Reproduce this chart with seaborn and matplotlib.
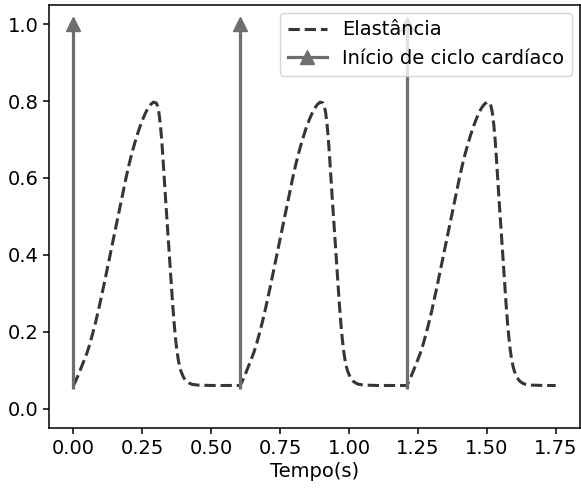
import matplotlib
matplotlib.use("Agg")
import matplotlib.pyplot as plt
import numpy as np
import pandas as pd
import seaborn as sns
from matplotlib.lines import Line2D

# one cardiac cycle of the elastance curve
cycle_time = [
    0.000, 0.010, 0.020, 0.030, 0.040, 0.050, 0.060, 0.070, 0.080, 0.090,
    0.100, 0.110, 0.120, 0.130, 0.140, 0.150, 0.160, 0.170, 0.180, 0.190,
    0.200, 0.210, 0.220, 0.230, 0.240, 0.250, 0.260, 0.270, 0.280, 0.290,
    0.300, 0.305, 0.310, 0.315, 0.320, 0.325, 0.330, 0.335, 0.340, 0.345,
    0.350, 0.355, 0.360, 0.365, 0.370, 0.375, 0.380, 0.385, 0.390, 0.400,
    0.410, 0.420, 0.430, 0.450, 0.500, 0.540, 0.600,
]
cycle_elastance = [
    0.060, 0.075, 0.092, 0.110, 0.128, 0.147, 0.170, 0.196, 0.224, 0.254,
    0.287, 0.320, 0.355, 0.390, 0.424, 0.459, 0.494, 0.528, 0.563, 0.598,
    0.630, 0.659, 0.685, 0.709, 0.731, 0.750, 0.767, 0.781, 0.791, 0.797,
    0.795, 0.787, 0.770, 0.740, 0.700, 0.648, 0.591, 0.536, 0.482, 0.428,
    0.374, 0.320, 0.270, 0.224, 0.184, 0.152, 0.128, 0.110, 0.097, 0.080,
    0.071, 0.066, 0.063, 0.061, 0.060, 0.060, 0.060,
]
# start of each cardiac cycle (arrows)
cycle_starts = [0.0, 0.605, 1.21]
t_end = 1.75
arrow_bottom = 0.05
arrow_top = 1.0

rows = []
for start in cycle_starts:
    for t, e in zip(cycle_time, cycle_elastance):
        if start + t <= t_end + 1e-9:
            rows.append((start + t, e))
df = pd.DataFrame(rows, columns=["tempo", "elastancia"]).drop_duplicates("tempo")

plt.rcParams["font.family"] = ["DejaVu Sans"]
plt.rcParams["font.size"] = 14

fig, ax = plt.subplots(figsize=(5.81, 4.90), dpi=100)
fig.subplots_adjust(left=0.085, right=0.998, bottom=0.127, top=0.99)

curve_color = "#363636"
arrow_color = "#6e6e6e"

sns.lineplot(data=df, x="tempo", y="elastancia", ax=ax, color=curve_color,
             linestyle="--", linewidth=2.2, sort=True)

for start in cycle_starts:
    ax.plot([start, start], [arrow_bottom, arrow_top], color=arrow_color,
            linewidth=2.3, solid_capstyle="butt")
    ax.plot([start], [arrow_top], marker="^", markersize=10.5,
            color=arrow_color, linestyle="none")

ax.set_xlim(-0.0875, 1.8375)
ax.set_ylim(-0.05, 1.05)
ax.set_xticks([0.0, 0.25, 0.5, 0.75, 1.0, 1.25, 1.5, 1.75])
ax.set_xticklabels(["0.00", "0.25", "0.50", "0.75", "1.00", "1.25", "1.50", "1.75"])
ax.set_yticks([0.0, 0.2, 0.4, 0.6, 0.8, 1.0])
ax.tick_params(length=4.5, width=1.1)
for sp in ax.spines.values():
    sp.set_linewidth(1.1)
ax.set_xlabel("Tempo(s)", labelpad=3)
ax.set_ylabel("")

handles = [
    Line2D([], [], color=curve_color, linestyle="--", linewidth=2.2),
    Line2D([], [], color=arrow_color, linewidth=2.3, marker="^", markersize=10.5),
]
ax.legend(handles, ["Elastância", "Início de ciclo cardíaco"], loc="upper right",
          borderaxespad=0.4)

fig.savefig("out.png", dpi=100)
